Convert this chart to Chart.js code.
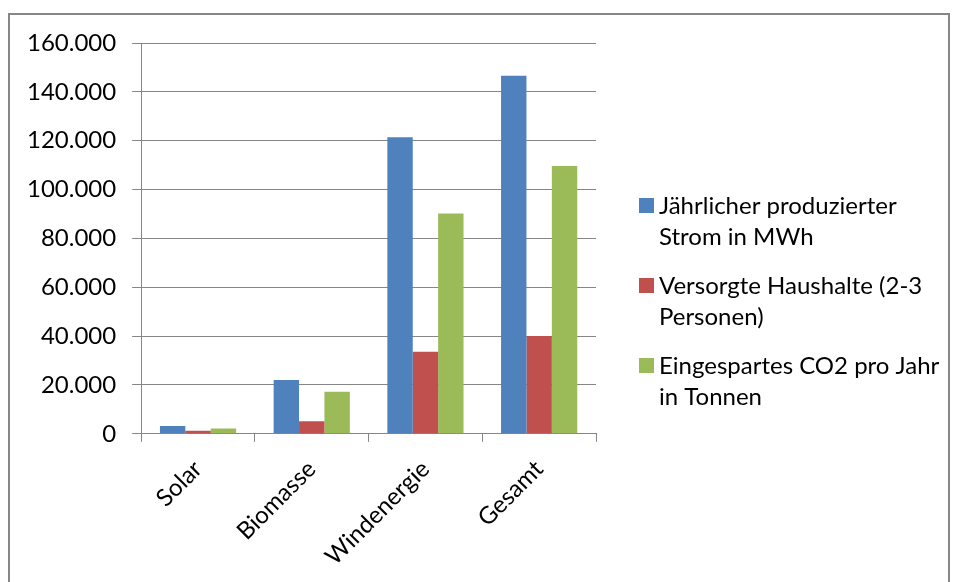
<!DOCTYPE html>
<html>
<head>
<meta charset="utf-8">
<script src="https://cdn.jsdelivr.net/npm/chart.js@4.4.1/dist/chart.umd.min.js"></script>
<style>
html, body { margin: 0; padding: 0; background: #fff; overflow: hidden; }
#frame { position: absolute; left: 8px; top: 13px; width: 938px; height: 620px; border: 2px solid #878787; }
#wrap { position: absolute; left: 0; top: 0; width: 955px; height: 582px; }
</style>
</head>
<body>
<div id="frame"></div>
<div id="wrap"><canvas id="energyChart" width="955" height="582"></canvas></div>
<script>
var categories = ["Solar", "Biomasse", "Windenergie", "Gesamt"];
var stromMWh = [3200, 22000, 121400, 146600];
var haushalte = [1300, 5200, 33600, 40100];
var co2Tonnen = [2200, 17200, 90200, 109600];
var seriesLabels = [
  ["Jährlicher produzierter", "Strom in MWh"],
  ["Versorgte Haushalte (2-3", "Personen)"],
  ["Eingespartes CO2 pro Jahr", "in Tonnen"]
];
var seriesColors = ["#4F81BD", "#C0504D", "#9BBB59"];
var yMax = 160000;
var yStep = 20000;

var gridColor = "#868686";

// 20000 -> "20.000"
function formatDe(v) {
  return String(v).replace(/\B(?=(\d{3})+(?!\d))/g, ".");
}

Chart.defaults.font.family = "Lato";
Chart.defaults.color = "#000";

// legend with wrapped two-line labels, drawn right of the plot
var sideLegend = {
  id: "sideLegend",
  afterDraw: function (chart) {
    var ctx = chart.ctx;
    var x = chart.chartArea.right + 43;
    var y = 198;
    ctx.save();
    ctx.font = "24px Lato";
    ctx.textBaseline = "middle";
    ctx.textAlign = "left";
    chart.data.datasets.forEach(function (ds) {
      ctx.fillStyle = ds.backgroundColor;
      ctx.fillRect(x, y, 15, 15);
      ctx.fillStyle = "#000";
      ds.label.forEach(function (line, j) {
        ctx.fillText(line, x + 20, y + 8 + j * 31);
      });
      y += 80;
    });
    ctx.restore();
  }
};

var seriesValues = [stromMWh, haushalte, co2Tonnen];
var datasets = seriesValues.map(function (vals, i) {
  return {
    label: seriesLabels[i],
    data: vals,
    backgroundColor: seriesColors[i],
    borderWidth: 0,
    categoryPercentage: 0.67,
    barPercentage: 1.0
  };
});

new Chart("energyChart", {
  type: "bar",
  data: {
    labels: categories,
    datasets: datasets
  },
  options: {
    responsive: false,
    animation: false,
    layout: {
      padding: { left: 11, top: 43, right: 359, bottom: -2 }
    },
    scales: {
      x: {
        grid: { drawOnChartArea: false, drawTicks: true, tickLength: 8, color: gridColor, offset: true },
        border: { color: gridColor },
        ticks: { font: { size: 24 }, color: "#000", minRotation: 45, maxRotation: 45, padding: 13 }
      },
      y: {
        min: 0,
        max: yMax,
        grid: { color: gridColor, tickLength: 9 },
        border: { color: gridColor },
        ticks: {
          stepSize: yStep,
          font: { size: 24 },
          color: "#000",
          padding: 16,
          callback: function (value) { return formatDe(value); }
        }
      }
    },
    plugins: {
      tooltip: { enabled: false },
      legend: { display: false }
    }
  },
  plugins: [sideLegend]
});
</script>
</body>
</html>
